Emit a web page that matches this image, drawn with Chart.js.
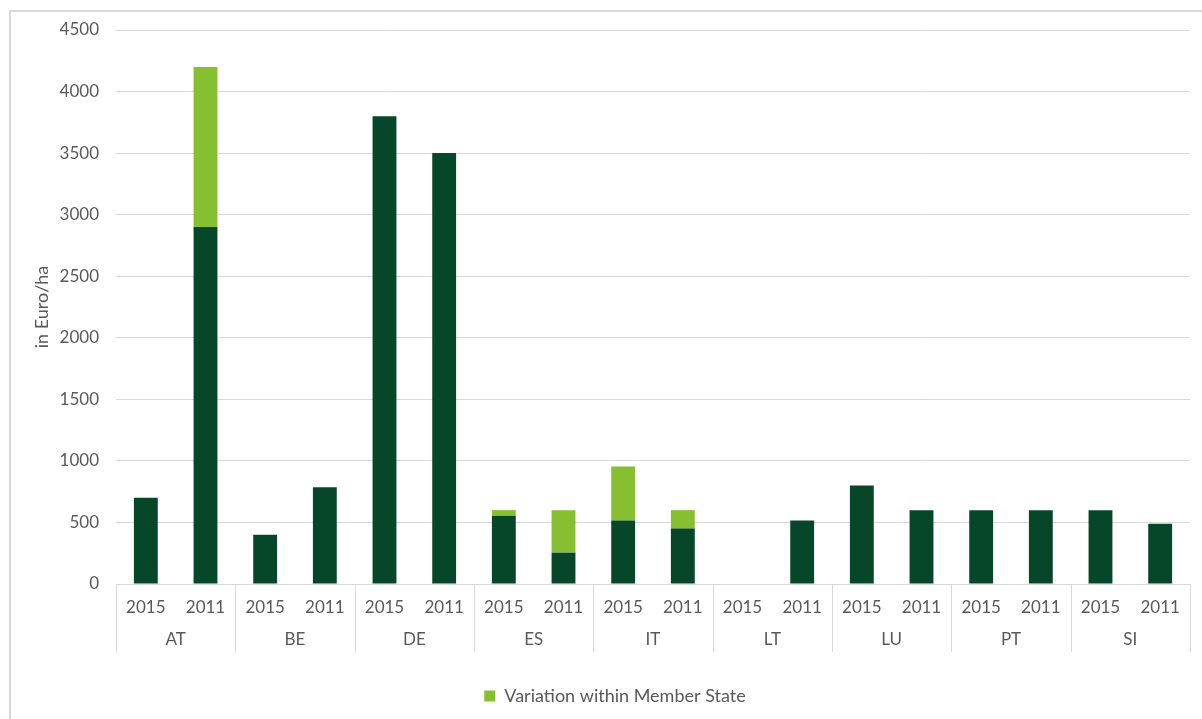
<!DOCTYPE html>
<html>
<head>
<meta charset="utf-8">
<script src="https://cdn.jsdelivr.net/npm/chart.js@4"></script>
<style>
  html, body { margin: 0; padding: 0; background: #fff; }
  #frame { position: absolute; left: 9px; top: 10px; width: 1200px; height: 720px; border: 2px solid #d9d9d9; box-sizing: border-box; }
  #c { position: absolute; left: 0; top: 0; }
</style>
</head>
<body>
<div id="frame"></div>
<canvas id="c" width="1202" height="719"></canvas>
<script>
const COUNTRIES = ['AT', 'BE', 'DE', 'ES', 'IT', 'LT', 'LU', 'PT', 'SI'];
const YEARS = ['2015', '2011'];
const YEAR_LABELS = COUNTRIES.flatMap(() => YEARS);
// Base value (dark green), per country: 2015, 2011
const BASE_VALUES = [700, 2900, 400, 785, 3800, 3500, 555, 255, 515, 450, 0, 515, 800, 600, 600, 600, 600, 490];
// Variation within Member State (light green, stacked on top)
const VARIATION_VALUES = [0, 1300, 0, 0, 0, 0, 45, 345, 440, 150, 0, 0, 0, 0, 0, 0, 0, 0];
const Y_MAX = 4500;
const Y_STEP = 500;

const TEXT = '#595959';
const GRID = '#d9d9d9';
const FONT = 'Lato, "Open Sans", sans-serif';

const separators = {
  id: 'separators',
  afterDraw(chart) {
    const x = chart.scales.x, x2 = chart.scales.x2, ca = chart.chartArea;
    const ctx = chart.ctx;
    ctx.save();
    ctx.strokeStyle = GRID;
    ctx.lineWidth = 1;
    for (let i = 0; i <= COUNTRIES.length; i++) {
      let px;
      if (i === 0) px = ca.left;
      else if (i === COUNTRIES.length) px = ca.right;
      else px = (x.getPixelForValue(2 * i - 1) + x.getPixelForValue(2 * i)) / 2;
      px = Math.round(px) + 0.5;
      ctx.beginPath();
      ctx.moveTo(px, ca.bottom);
      ctx.lineTo(px, x2.bottom);
      ctx.stroke();
    }
    ctx.restore();
  }
};

new Chart(document.getElementById('c'), {
  type: 'bar',
  data: {
    labels: YEAR_LABELS,
    datasets: [
      { label: 'Base', data: BASE_VALUES, backgroundColor: '#06472A', stack: 's' },
      { label: 'Variation within Member State', data: VARIATION_VALUES, backgroundColor: '#86BF30', stack: 's' }
    ]
  },
  options: {
    responsive: false,
    animation: false,
    layout: { padding: { left: 40, right: 12, top: 30, bottom: 4 } },
    datasets: { bar: { barPercentage: 0.4, categoryPercentage: 1.0 } },
    plugins: {
      legend: {
        position: 'bottom',
        labels: {
          filter: (item) => item.datasetIndex === 1,
          color: TEXT,
          font: { family: FONT, size: 18 },
          boxWidth: 11, boxHeight: 11, padding: 35
        }
      },
      tooltip: { enabled: false }
    },
    scales: {
      x: {
        stacked: true,
        grid: { display: false },
        border: { display: true, color: GRID },
        ticks: { color: TEXT, font: { family: FONT, size: 17 }, padding: 5, maxRotation: 0, autoSkip: false },
        afterFit: (s) => { s.height = 37; }
      },
      x2: {
        type: 'category',
        labels: COUNTRIES,
        position: 'bottom',
        offset: true,
        grid: { display: false },
        border: { display: false },
        ticks: { color: TEXT, font: { family: FONT, size: 17 }, padding: 0 },
        afterFit: (s) => { s.height = 31; }
      },
      y: {
        stacked: true,
        min: 0, max: Y_MAX,
        ticks: { stepSize: Y_STEP, color: TEXT, font: { family: FONT, size: 17 }, padding: 17, callback: (v) => String(v) },
        grid: { color: GRID, drawTicks: false },
        border: { display: false },
        title: { display: true, text: 'in Euro/ha', color: TEXT, font: { family: FONT, size: 18 }, padding: { top: -9, bottom: 0 } },
        afterFit: (s) => { s.width = 76; }
      }
    }
  },
  plugins: [separators]
});
</script>
</body>
</html>
